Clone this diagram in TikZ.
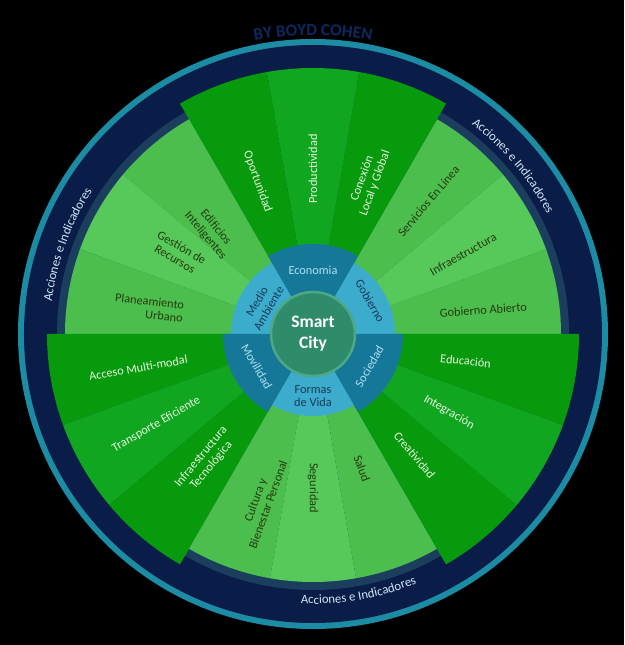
\documentclass[tikz,border=0pt]{standalone}
\usepackage{fontspec}
\setmainfont{Carlito}
\usetikzlibrary{decorations.text}

\definecolor{dgA}{RGB}{6,154,12}
\definecolor{dgB}{RGB}{17,166,31}
\definecolor{lgA}{RGB}{76,190,78}
\definecolor{lgB}{RGB}{87,201,91}
\definecolor{hubdark}{RGB}{22,120,152}
\definecolor{hublight}{RGB}{60,172,204}
\definecolor{core}{RGB}{46,140,106}
\definecolor{coreline}{RGB}{78,168,134}
\definecolor{ringteal}{RGB}{28,140,165}
\definecolor{ringnavy}{RGB}{10,28,72}
\definecolor{ringslate}{RGB}{28,62,94}
\definecolor{txtlight}{RGB}{232,245,225}
\definecolor{txtdark}{RGB}{38,58,14}
\definecolor{hubtxtlight}{RGB}{172,224,240}
\definecolor{hubtxtdark}{RGB}{26,58,90}
\definecolor{actext}{RGB}{205,232,245}
\definecolor{bytext}{RGB}{14,40,95}

\newcommand{\acfont}{\fontsize{12.8}{14}\selectfont}

\tikzset{
  lbl/.style={align=center},
  ondark/.style={lbl, text=txtlight},
  onlight/.style={lbl, text=txtdark},
  hubd/.style={lbl, text=hubtxtlight},
  hubl/.style={lbl, text=hubtxtdark},
}

\begin{document}
\begin{tikzpicture}[x=1pt, y=1pt, every node/.style={font=\fontsize{12.3}{13.5}\selectfont, inner sep=0pt}]
    \useasboundingbox (-313,-311) rectangle (311,334);
    \fill[black] (-313,-311) rectangle (311,334);

    % outer rings
    \fill[ringteal] (0,0) circle[radius=295];
    \fill[ringnavy] (0,0) circle[radius=289];
    \fill[ringslate] (0,0) circle[radius=256];

    % green segments, 20 degrees each
    \foreach \a/\r/\c in {0/248/lgA, 20/248/lgB, 40/248/lgA,
                          60/266/dgA, 80/266/dgB, 100/266/dgA,
                          120/248/lgA, 140/248/lgB, 160/248/lgA,
                          180/266/dgA, 200/266/dgB, 220/266/dgA,
                          240/248/lgA, 260/248/lgB, 280/248/lgA,
                          300/266/dgA, 320/266/dgB, 340/266/dgA}
        \fill[\c] (0,0) -- (\a:\r) arc[start angle=\a, end angle=\a+20, radius=\r] -- cycle;

    % hub
    \fill[hublight] (0,0) circle[radius=82];
    \foreach \a in {60,180,300}
        \fill[hubdark] (0,0) -- (\a:90) arc[start angle=\a, end angle=\a+60, radius=90] -- cycle;
    \node[circle, fill=core, draw=coreline, line width=2.5pt, minimum size=84pt, text=white,
          font=\bfseries\fontsize{17.5}{21}\selectfont, align=center] (core) at (0,0) {Smart\\City};

    \node[hubd, rotate=0] (economia) at (90:64) {Economia};
    \node[hubl, rotate=-60] (gobierno) at (30:66) {Gobierno};
    \node[hubd, rotate=60] (sociedad) at (-30:65) {Sociedad};
    \node[hubl] (formas) at (-90:62) {Formas\\de Vida};
    \node[hubd, rotate=-60] (movil) at (210:65) {Movilidad};
    \node[hubl, rotate=60] (medio) at (150:58) {Medio\\Ambiente};

    % Economia
    \node[ondark, rotate=-70] (oport) at (110:162) {Oportunidad};
    \node[ondark, rotate=90] (produc) at (90:165) {Productividad};
    \node[ondark, rotate=70] (conex) at (70:163) {Conexión\\Local y Global};
    % Gobierno
    \node[onlight, rotate=50] (servic) at (49:176) {Servicios En Línea};
    \node[onlight, rotate=30] (infra) at (28:170) {Infraestructura};
    \node[onlight, rotate=4] (gobab) at (8:172) {Gobierno Abierto};
    % Medio Ambiente
    \node[onlight, rotate=-50] (edif) at (135:145) {Edificios\\Inteligentes};
    \node[onlight, rotate=-30] (gestion) at (149:157) {Gestión de\\Recursos};
    \node[onlight, rotate=-6, align=right] (planea) at (171:166) {Planeamiento\\Urbano};
    % Movilidad
    \node[ondark, rotate=10] (acceso) at (191:178) {Acceso Multi-modal};
    \node[ondark, rotate=30] (transp) at (210:181) {Transporte Eficiente};
    \node[ondark, rotate=50] (infratec) at (230:166) {Infraestructura\\Tecnológica};
    % Formas de Vida
    \node[onlight, rotate=70] (cultura) at (253:176) {Cultura y\\Bienestar Personal};
    \node[onlight, rotate=-90] (segur) at (270:154) {Seguridad};
    \node[onlight, rotate=-70] (salud) at (290:143) {Salud};
    % Sociedad
    \node[ondark, rotate=-50] (creat) at (310:158) {Creatividad};
    \node[ondark, rotate=-30] (integ) at (330:157) {Integración};
    \node[ondark, rotate=-6] (educ) at (350:155) {Educación};

    % curved texts
    \path[decorate, decoration={text along path, text color=actext, text align=center,
          text={|\acfont|Acciones e Indicadores}}]
        (200:263) arc[start angle=200, end angle=120, radius=263];
    \path[decorate, decoration={text along path, text color=actext, text align=center,
          text={|\acfont|Acciones e Indicadores}}]
        (80:263) arc[start angle=80, end angle=0, radius=263];
    \path[decorate, decoration={text along path, text color=actext, text align=center,
          text={|\acfont|Acciones e Indicadores}}]
        (240:270) arc[start angle=240, end angle=320, radius=270];
    \path[decorate, decoration={text along path, text color=bytext, text align=center,
          text={|\bfseries\fontsize{17}{18}\selectfont|BY BOYD COHEN}}]
        (110:299) arc[start angle=110, end angle=70, radius=299];
\end{tikzpicture}
\end{document}
